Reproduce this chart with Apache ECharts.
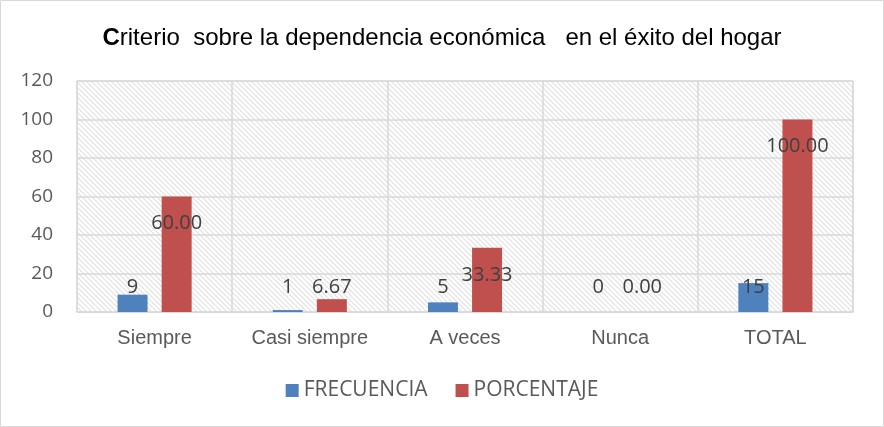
<!DOCTYPE html>
<html>
<head>
<meta charset="utf-8">
<script src="https://cdn.jsdelivr.net/npm/echarts@6/dist/echarts.min.js"></script>
<style>
  html, body { margin: 0; padding: 0; background: #fff; }
  #report { width: 884px; height: 427px; }
</style>
</head>
<body>
<div id="report"></div>
<script>
// datos del gráfico
var categorias = ['Siempre', 'Casi siempre', 'A veces', 'Nunca', 'TOTAL'];
var frecuencia = [9, 1, 5, 0, 15];
var porcentaje = [60.00, 6.67, 33.33, 0.00, 100.00];
var ejeY = [0, 20, 40, 60, 80, 100, 120];

// fondo rayado del área de trazado
var trama = document.createElement('canvas');
trama.width = 5;
trama.height = 5;
var ctx = trama.getContext('2d');
ctx.fillStyle = '#ffffff';
ctx.fillRect(0, 0, 5, 5);
ctx.strokeStyle = '#e0e0e0';
ctx.lineWidth = 1.1;
ctx.beginPath();
ctx.moveTo(-1, -1); ctx.lineTo(6, 6);
ctx.moveTo(-1, 4); ctx.lineTo(1, 6);
ctx.moveTo(4, -1); ctx.lineTo(6, 1);
ctx.stroke();

var myChart = echarts.init(document.getElementById('report'));

var fuenteEtiqueta = "'Open Sans', 'Noto Sans', sans-serif";
var fuenteTitulo = "'Liberation Sans', Arial, sans-serif";

function etiquetasPorcentaje(vals) {
  return vals.map(function (v) {
    var alto = v > 20;
    return {
      value: v,
      label: { position: alto ? 'insideTop' : 'insideBottom', distance: alto ? 17 : 15 }
    };
  });
}

option = {
  animation: false,
  backgroundColor: '#ffffff',
  graphic: [{
    type: 'rect',
    shape: { x: 0.5, y: 0.5, width: 883, height: 426 },
    style: { fill: 'none', stroke: '#d9d9d9', lineWidth: 1 },
    silent: true
  }],
  title: {
    text: '{b|C}riterio  sobre la dependencia económica   en el éxito del hogar',
    left: 'center',
    top: 21,
    textStyle: {
      fontFamily: fuenteTitulo,
      fontSize: 24,
      fontWeight: 'normal',
      color: '#000000',
      rich: {
        b: { fontFamily: fuenteTitulo, fontSize: 24, fontWeight: 'bold', color: '#000000' }
      }
    }
  },
  legend: {
    top: 375,
    left: 'center',
    itemWidth: 13,
    itemHeight: 13,
    itemGap: 28,
    icon: 'rect',
    textStyle: { fontFamily: fuenteEtiqueta, fontSize: 21, color: '#595959' },
    data: ['FRECUENCIA', 'PORCENTAJE']
  },
  grid: {
    left: 77,
    right: 31,
    top: 81,
    bottom: 115,
    show: true,
    backgroundColor: { image: trama, repeat: 'repeat' },
    borderColor: '#d9d9d9',
    borderWidth: 1
  },
  xAxis: {
    type: 'category',
    data: categorias,
    axisLine: { lineStyle: { color: '#d9d9d9', width: 1 } },
    axisTick: { show: false },
    axisLabel: {
      margin: 16,
      fontFamily: fuenteTitulo,
      fontSize: 20,
      color: '#595959'
    },
    splitLine: { show: true, lineStyle: { color: '#d9d9d9', width: 1.5 } }
  },
  yAxis: {
    type: 'value',
    min: ejeY[0],
    max: ejeY[ejeY.length - 1],
    interval: 20,
    axisLine: { show: false },
    axisTick: { show: false },
    axisLabel: {
      margin: 24,
      fontFamily: fuenteEtiqueta,
      fontSize: 19,
      color: '#595959'
    },
    splitLine: { lineStyle: { color: '#d9d9d9', width: 1.5 } }
  },
  series: [
    {
      name: 'FRECUENCIA',
      type: 'bar',
      barWidth: 30,
      barGap: '47%',
      itemStyle: { color: '#4f81bd' },
      label: {
        show: true,
        position: 'insideBottom',
        distance: 15,
        fontFamily: fuenteEtiqueta,
        fontSize: 20,
        color: '#404040'
      },
      data: frecuencia
    },
    {
      name: 'PORCENTAJE',
      type: 'bar',
      barWidth: 30,
      itemStyle: { color: '#c0504d' },
      label: {
        show: true,
        fontFamily: fuenteEtiqueta,
        fontSize: 20,
        color: '#404040',
        formatter: function (p) { return p.value.toFixed(2); }
      },
      data: etiquetasPorcentaje(porcentaje)
    }
  ]
};

myChart.setOption(option);
</script>
</body>
</html>
